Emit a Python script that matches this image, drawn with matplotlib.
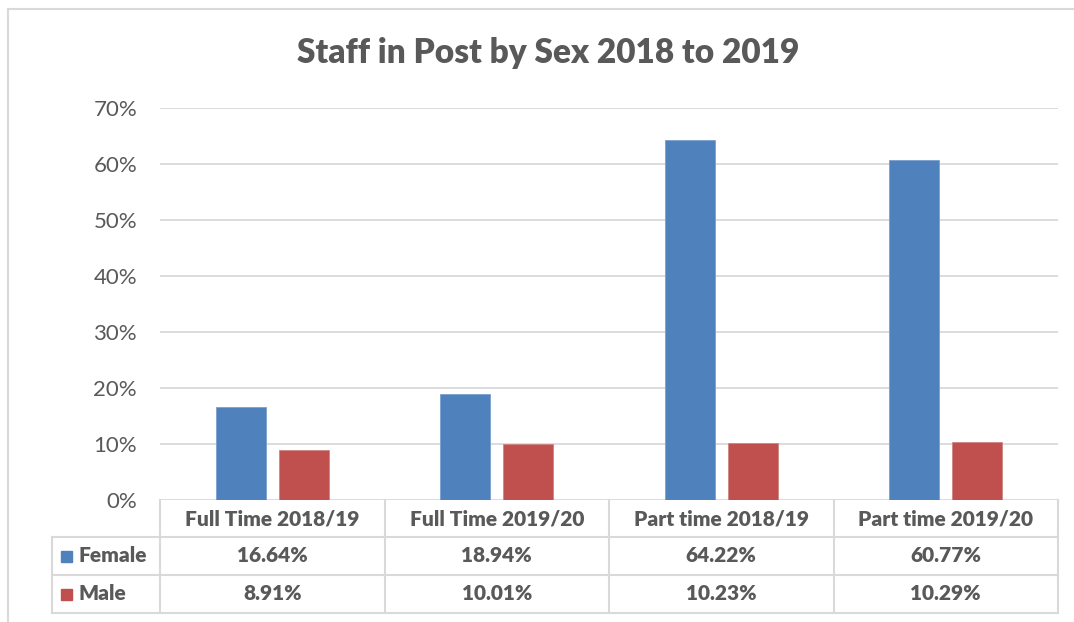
import matplotlib.pyplot as plt
import matplotlib.transforms as mtransforms
from matplotlib.lines import Line2D
from matplotlib.patches import Rectangle

plt.rcParams['font.family'] = ['Lato', 'DejaVu Sans']

categories = ['Full Time 2018/19', 'Full Time 2019/20', 'Part time 2018/19', 'Part time 2019/20']
female = [16.64, 18.94, 64.22, 60.77]
male = [8.91, 10.01, 10.23, 10.29]
series = ['Female', 'Male']
yticks = [0, 10, 20, 30, 40, 50, 60, 70]

blue = '#4F81BD'
red = '#C0504D'
grey_txt = '#595959'
grid_c = '#D9D9D9'

W, H = 1074, 622
fig = plt.figure(figsize=(W / 100, H / 100), dpi=100)
ax = fig.add_axes([160 / W, (H - 500) / H, (1058 - 160) / W, (500 - 108) / H])

x = list(range(len(categories)))
bw = 0.223
off = 0.141
ax.bar([i - off for i in x], female, bw, color=blue, edgecolor='#7A9FCF', linewidth=0.6, zorder=3)
ax.bar([i + off for i in x], male, bw, color=red, edgecolor='#D08583', linewidth=0.6, zorder=3)

ax.set_xlim(-0.5, len(categories) - 0.5)
ax.set_ylim(0, 70)
ax.set_yticks(yticks)
ax.set_yticklabels([f'{t}%' for t in yticks], color=grey_txt, fontsize=16)
ax.tick_params(axis='y', length=0, pad=16.5)
ax.set_xticks([])
ax.yaxis.grid(True, color=grid_c, linewidth=1.3, zorder=0)
for s in ax.spines.values():
    s.set_visible(False)


def fy(ypix):
    return (H - ypix) / H


def fx(xpix):
    return xpix / W


fig.text(fx(548), fy(53), 'Staff in Post by Sex 2018 to 2019', fontsize=24, fontweight='heavy',
         color=grey_txt, ha='center', va='center')

# data table below the plot
trans = mtransforms.blended_transform_factory(ax.transData, fig.transFigure)
lc = dict(color=grid_c, linewidth=1.5)
for yy in [537, 575, 613]:
    fig.add_artist(Line2D([fx(52), fx(1058)], [fy(yy), fy(yy)], **lc))
fig.add_artist(Line2D([fx(52), fx(52)], [fy(537), fy(613)], **lc))
for b in [i - 0.5 for i in range(len(categories) + 1)]:
    fig.add_artist(Line2D([b, b], [fy(500), fy(613)], transform=trans, **lc))

tk = dict(ha='center', va='center', fontweight='heavy', color=grey_txt)
for i, c in enumerate(categories):
    fig.text(i, fy(519), c, transform=trans, fontsize=15, **tk)
    fig.text(i, fy(556), f'{female[i]:.2f}%', transform=trans, fontsize=15, **tk)
    fig.text(i, fy(594), f'{male[i]:.2f}%', transform=trans, fontsize=15, **tk)

for name, col, yc in zip(series, [blue, red], [556, 594]):
    fig.add_artist(Rectangle((fx(61), fy(yc + 6)), 11 / W, 11 / H, color=col))
    fig.text(fx(79), fy(yc), name, ha='left', va='center', fontsize=15,
             fontweight='heavy', color=grey_txt)

# outer chart frame
fig.add_artist(Line2D([fx(8), fx(8)], [fy(9), 0], color=grid_c, linewidth=1.5))
fig.add_artist(Line2D([fx(8), 1], [fy(9), fy(9)], color=grid_c, linewidth=1.5))

fig.savefig('out.png', dpi=100)
